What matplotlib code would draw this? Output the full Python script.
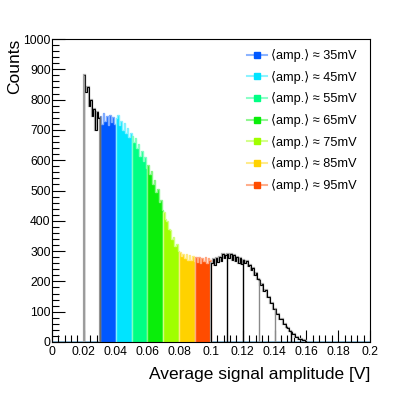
import numpy as np
import matplotlib.pyplot as plt
from matplotlib.lines import Line2D
from matplotlib.ticker import MultipleLocator, FuncFormatter

plt.rcParams['font.family'] = ['Liberation Sans', 'DejaVu Sans']

# histogram: bins of 1 mV from 0.020 V to 0.160 V
bin_start = 0.020
bin_width = 0.001
counts = [
    880, 825, 840, 780, 800, 745, 770, 700, 760, 740,
    745, 720, 755, 728, 746, 715, 750, 726, 742, 720,
    738, 748, 715, 730, 700, 722, 690, 705, 678, 690,
    680, 660, 672, 640, 655, 615, 630, 598, 610, 575,
    585, 555, 565, 520, 535, 495, 505, 462, 470, 435,
    430, 405, 400, 372, 368, 340, 345, 318, 322, 300,
    298, 285, 292, 276, 290, 272, 286, 270, 284, 268,
    280, 264, 282, 262, 278, 266, 280, 260, 276, 270,
    262, 275, 255, 278, 264, 282, 268, 290, 276, 286,
    292, 276, 290, 270, 286, 266, 280, 262, 276, 258,
    272, 262, 268, 250, 254, 236, 244, 222, 228, 208,
    206, 188, 190, 168, 170, 150, 150, 128, 130, 110,
    108, 92, 92, 76, 76, 60, 60, 48, 46, 36,
    34, 26, 25, 18, 17, 11, 10, 6, 5, 2,
]

# coloured amplitude slices
band_lo = [0.03, 0.04, 0.05, 0.06, 0.07, 0.08, 0.09]
band_hi = [0.04, 0.05, 0.06, 0.07, 0.08, 0.09, 0.10]
band_labels = ['35mV', '45mV', '55mV', '65mV', '75mV', '85mV', '95mV']
band_colors = ['#0058ff', '#00e4ff', '#00ff84', '#0aee0a', '#a0ff00', '#ffd200', '#ff4c00']

# outline slices drawn after the coloured ones
edge_pos = [0.02, 0.03, 0.11, 0.12, 0.13, 0.14, 0.15]
edge_colors = ['#9a9a9a', '#6a6a6a', '#000000', '#000000', '#8a8a8a', '#8a8a8a', '#000000']

counts = np.array(counts, dtype=float)
edges = bin_start + bin_width * np.arange(len(counts) + 1)

fig = plt.figure(figsize=(4.11, 3.93), dpi=100)
ax = fig.add_axes([52 / 411, 1 - 342 / 393, 318 / 411, 303 / 393])

ax.axhline(0, color='#86b6d4', lw=2, zorder=1)

for lo, hi, c in zip(band_lo, band_hi, band_colors):
    sel = (edges[:-1] >= lo - 1e-9) & (edges[:-1] < hi - 1e-9)
    idx = np.where(sel)[0]
    e = edges[idx[0]:idx[-1] + 2]
    v = counts[sel]
    ax.stairs(v, e, fill=True, color=c, lw=0, zorder=2)
    light = 0.5 * np.array(plt.matplotlib.colors.to_rgb(c)) + 0.5
    ax.stairs(v, e, color=light, lw=1.0, zorder=2)

# black histogram outside the coloured slices
outside = (edges[:-1] < 0.03 - 1e-9) | (edges[:-1] >= 0.10 - 1e-9)
v_black = np.where(outside, counts, np.nan)
ax.stairs(v_black, edges, color='#aaaaaa', lw=1.6, zorder=3)
ax.stairs(v_black, edges, color='black', lw=0.8, zorder=4)

for x, c in zip(edge_pos, edge_colors):
    i = int(round((x - bin_start) / bin_width))
    ax.vlines(x, 0, counts[i], color=c, lw=1.0, zorder=4)

ax.set_xlim(0, 0.2)
ax.set_ylim(0, 1000)
ax.xaxis.set_major_locator(MultipleLocator(0.02))
ax.xaxis.set_minor_locator(MultipleLocator(0.004))
ax.xaxis.set_major_formatter(FuncFormatter(lambda v, p: '%g' % round(v, 3)))
ax.yaxis.set_major_locator(MultipleLocator(100))
ax.yaxis.set_minor_locator(MultipleLocator(20))
ax.tick_params(which='both', direction='in', top=False, right=False, labelsize=8.7, width=0.8)
ax.tick_params(which='major', length=9, pad=3)
ax.tick_params(which='minor', length=5)
ax.tick_params(axis='y', pad=1)
for s in ax.spines.values():
    s.set_linewidth(0.8)

ax.set_xlabel('Average signal amplitude [V]', fontsize=12.5, loc='right', labelpad=6)
ax.set_ylabel('Counts', fontsize=12.5, loc='top', labelpad=1)

handles = []
for c in band_colors:
    light = 0.45 * np.array(plt.matplotlib.colors.to_rgb(c)) + 0.55
    handles.append(Line2D([], [], color=light, lw=1.5, marker='s', markersize=5,
                          markerfacecolor=c, markeredgecolor=c))
labels = ['\u27e8amp.\u27e9 \u2248 ' + b for b in band_labels]
ax.legend(handles, labels, loc='upper left', bbox_to_anchor=(0.612, 0.967),
          frameon=False, fontsize=9.2, handlelength=1.6, handletextpad=0.3,
          labelspacing=0.68, borderpad=0, borderaxespad=0)

fig.savefig('out.png', dpi=100)
